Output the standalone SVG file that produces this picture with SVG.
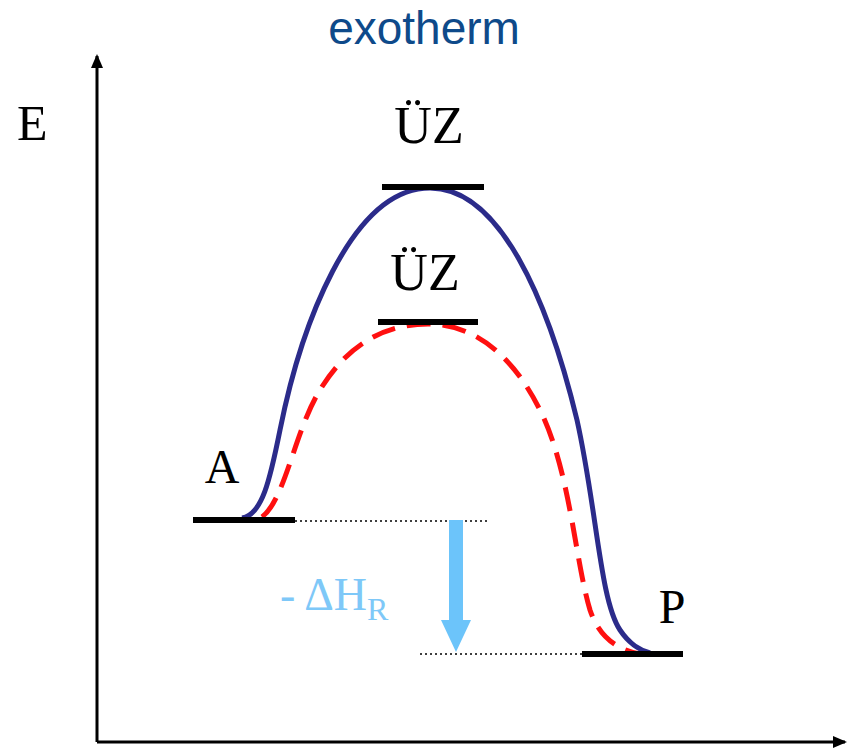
<svg xmlns="http://www.w3.org/2000/svg" width="854" height="750" viewBox="0 0 854 750">
<style>
.serif{font-family:"Liberation Serif","Times New Roman",serif;fill:#000}
.bar{stroke:#000;stroke-width:6;fill:none}
.dot{stroke:#000;stroke-width:1.5;stroke-dasharray:2 3;fill:none}
.axis{stroke:#000;stroke-width:3;fill:none}
</style>
<defs>
<marker id="ah" markerWidth="14" markerHeight="14" refX="12" refY="7" orient="auto" markerUnits="userSpaceOnUse" viewBox="0 0 14 14">
<path d="M0,1 L14,7 L0,13 z" fill="#000"/>
</marker>
</defs>
<rect width="854" height="750" fill="#fff"/>
<text id="title" x="424" y="44" text-anchor="middle" font-family="Liberation Sans, Arial, sans-serif" font-size="46" fill="#0e4a8a">exotherm</text>
<g id="axes">
<path class="axis" d="M97,742 V56" marker-end="url(#ah)"/>
<path class="axis" d="M97,742 H845" marker-end="url(#ah)"/>
<text class="serif" x="17" y="140" font-size="50">E</text>
</g>
<g id="connectors">
<path d="M242,518 C262,515 270,480 280,430 C300,330 350,188 430,188 C500,188 548,300 577,420 C597,510 600,600 620,630 C630,645 640,650 650,653" fill="none" stroke="#2b2b8a" stroke-width="5"/>
<path d="M262,517 C285,500 295,430 320,390 C350,340 390,324 428,324 C470,324 510,350 540,410 C570,470 575,560 590,610 C600,640 620,650 640,654" fill="none" stroke="#ff1010" stroke-width="5" stroke-dasharray="24 12"/>
<path class="dot" d="M295,521 H488"/>
<path class="dot" d="M420,654 H582"/>
</g>
<g id="ts1">
<line class="bar" x1="382" y1="187" x2="484" y2="187"/>
<text class="serif" x="429" y="143" font-size="52" text-anchor="middle">ÜZ</text>
</g>
<g id="ts2">
<line class="bar" x1="378" y1="322" x2="478" y2="322"/>
<text class="serif" x="425" y="290" font-size="52" text-anchor="middle">ÜZ</text>
</g>
<g id="A">
<line class="bar" x1="193" y1="520" x2="295" y2="520"/>
<text class="serif" x="222" y="483" font-size="48" text-anchor="middle">A</text>
</g>
<g id="P">
<line class="bar" x1="582" y1="654" x2="683" y2="654"/>
<text class="serif" x="672" y="623" font-size="48" text-anchor="middle">P</text>
</g>
<g id="dH">
<path d="M449,520 H463 V620 H471 L456,652 L441,620 H449 Z" fill="#6cc4fa"/>
<text class="serif" x="280" y="610" font-size="46" style="fill:#7ec8f8">- ΔH<tspan font-size="32" dy="10">R</tspan></text>
</g>
</svg>
